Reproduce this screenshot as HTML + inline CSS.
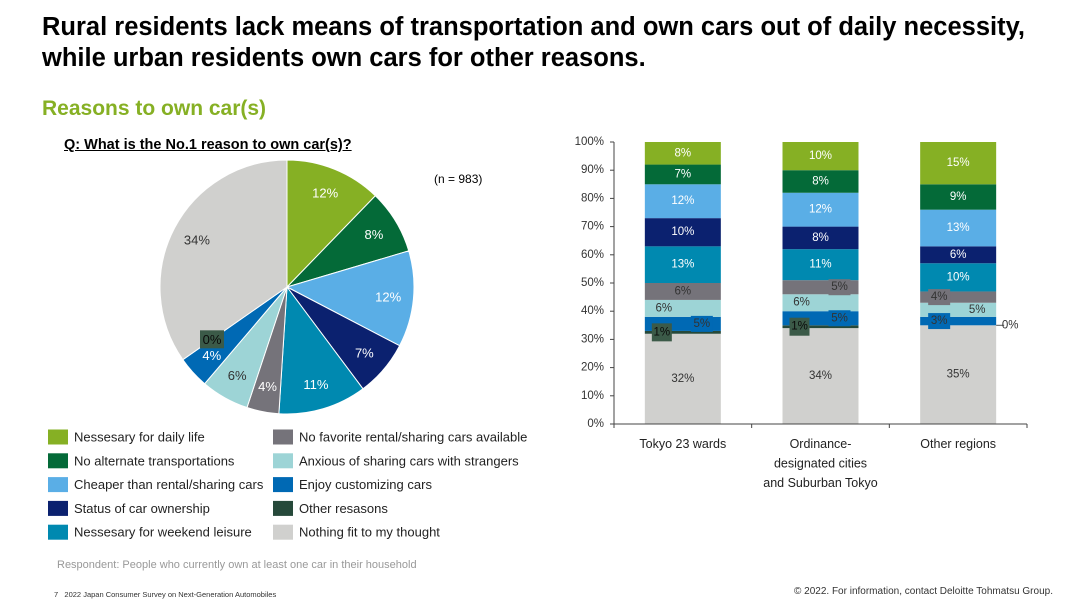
<!DOCTYPE html>
<html><head><meta charset="utf-8">
<style>
body{margin:0;width:1080px;height:608px;background:#fff;font-family:"Liberation Sans",sans-serif;overflow:hidden;position:relative}
.t{position:absolute;white-space:nowrap}
</style></head><body>
<div class="t" style="left:42px;top:12px;font-size:25.5px;font-weight:bold;line-height:31px;color:#000">Rural residents lack means of transportation and own cars out of daily necessity,<br>while urban residents own cars for other reasons.</div>
<div class="t" style="left:42px;top:97px;font-size:21px;font-weight:bold;color:#86b024">Reasons to own car(s)</div>
<div class="t" style="left:64px;top:137px;font-size:14.5px;font-weight:bold;text-decoration:underline">Q: What is the No.1 reason to own car(s)?</div>
<div class="t" style="left:434px;top:172px;font-size:12px">(n = 983)</div>
<div class="t" style="left:57px;top:559px;font-size:11px;color:#999">Respondent: People who currently own at least one car in their household</div>
<div class="t" style="left:54px;top:590px;font-size:7.5px;color:#333">7&nbsp;&nbsp;&nbsp;2022 Japan Consumer Survey on Next-Generation Automobiles</div>
<div class="t" style="left:794px;top:586px;font-size:10px;color:#333">© 2022. For information, contact Deloitte Tohmatsu Group.</div>
<svg id="svg" width="1080" height="608" style="position:absolute;left:0;top:0"></svg>
<script>
const categories=["Nessesary for daily life","No alternate transportations","Cheaper than rental/sharing cars","Status of car ownership","Nessesary for weekend leisure","No favorite rental/sharing cars available","Anxious of sharing cars with strangers","Enjoy customizing cars","Other resasons","Nothing fit to my thought"];
const colors=["#86b024","#046a38","#5aaee6","#0b216f","#0089b0","#75737a","#9dd4d6","#0069b4","#26493a","#d0d0ce"];
const pieValues=[12,8,12,7,11,4,6,4,0,34];
const barGroups=["Tokyo 23 wards","Ordinance-|designated cities|and Suburban Tokyo","Other regions"];
const tokyo=[8,7,12,10,13,6,6,5,1,32];
const ordinance=[10,8,12,8,11,5,6,5,1,34];
const other=[15,9,13,6,10,4,5,3,0,35];
const yTicks=[0,10,20,30,40,50,60,70,80,90,100];
const series=[tokyo,ordinance,other];
const svg=document.getElementById('svg');
const NS='http://www.w3.org/2000/svg';
const boxGreen='#3b5a48';
function el(t,a,p){const e=document.createElementNS(NS,t);for(const k in a)e.setAttribute(k,a[k]);(p||svg).appendChild(e);return e;}
function txt(x,y,s,o){const e=el('text',Object.assign({x:x,y:y,'font-size':12,'font-family':'Liberation Sans, sans-serif','text-anchor':'middle','dominant-baseline':'central'},o||{}));e.textContent=s;return e;}
const later=[];
// pie
const cx=287,cy=287,R=127;const tot=pieValues.reduce((a,b)=>a+b,0);let a0=0;
pieValues.forEach((v,i)=>{const a1=a0+v/tot*2*Math.PI;
 const p=(a)=>[cx+R*Math.sin(a),cy-R*Math.cos(a)];const s=p(a0),e=p(a1);
 if(v>0){const path=el('path',{d:`M${cx},${cy}L${s[0]},${s[1]}A${R},${R} 0 ${a1-a0>Math.PI?1:0} 1 ${e[0]},${e[1]}Z`,fill:colors[i],stroke:'#fff','stroke-width':1});
 
 }
 const m=(a0+a1)/2,r=v===0?R*0.72:R*0.8;
 const lx=cx+r*Math.sin(m),ly=cy-r*Math.cos(m);
 later.push(()=>{
  if(v===0){el('rect',{x:lx-12,y:ly-9,width:24,height:18,fill:boxGreen});}
  const t=txt(lx,ly,v+'%',{'font-size':13,fill:i===8?'#0a0a0a':((i===6||i===9)?'#333':'#fff')});
  
  
 });
 a0=a1;});
// legend
categories.forEach((c,i)=>{const col=i<5?0:1,row=i%5;const x=col?273:48,y=437+row*23.8;
 const r=el('rect',{x:x,y:y-7.5,width:20,height:15,fill:colors[i]});
 
 
 const t=txt(x+26,y,c,{'text-anchor':'start','font-size':13,fill:'#222'});
 
 });
// bar chart
const x0=614,x1=1027,yb=424,yt=142;const Y=v=>yb-(yb-yt)*v/100;const gw=(x1-x0)/3,bw=76;
yTicks.forEach(v=>{el('line',{x1:x0-4,x2:x0,y1:Y(v),y2:Y(v),stroke:'#444'});
 const t=txt(x0-10,Y(v),v+'%',{'text-anchor':'end','font-size':11.5,fill:'#333'});
 
 });
series.forEach((vals,g)=>{const bx=x0+gw*g+gw/2-bw/2;let cum=0;
 for(let i=9;i>=0;i--){const v=vals[i];const ya=Y(cum),yb2=Y(cum+v);
  const r=el('rect',{x:bx,y:yb2,width:bw,height:ya-yb2,fill:colors[i]});
  
  
  const mid=(ya+yb2)/2;let lx=bx+bw/2,fill='#fff';
  if(i>=5){fill='#333';}
  if(i===5||i===6||i===7){lx=(i===6)!==(g===2)?bx+bw*0.25:bx+bw*0.75;if(i===5&&g===0)lx=bx+bw/2;}
  if(i===8){lx=v>0?bx+17:bx+bw+14;fill=v>0?'#0a0a0a':'#333';}
  const LX=lx,M=mid,YA=ya,F=fill;
  later.push(()=>{
   if(i===8){if(v>0){el('rect',{x:bx+7,y:M-9,width:20,height:18,fill:boxGreen});}else{el('line',{x1:bx+bw,x2:bx+bw+8,y1:YA,y2:YA,stroke:'#555'});}}
   if(i===7){el('rect',{x:LX-11,y:M-8,width:22,height:16,fill:colors[7]});}
   if(i===5&&g!==0){el('rect',{x:LX-11,y:M-8,width:22,height:16,fill:colors[5]});}
   const t=txt(LX,M,v+'%',{'font-size':11.5,fill:F});
   
   
  });
  cum+=v;}
 barGroups[g].split('|').forEach((ln,j)=>{const t=txt(x0+gw*g+gw/2,444+j*19.5,ln,{'font-size':12.5,fill:'#222'});
  
  });
});
el('line',{x1:x0,x2:x0,y1:yt,y2:yb,stroke:'#444'});
el('line',{x1:x0,x2:x1,y1:yb,y2:yb,stroke:'#444'});
for(let k=0;k<=3;k++)el('line',{x1:x0+k*gw,x2:x0+k*gw,y1:yb,y2:yb+4,stroke:'#444'});
later.forEach(f=>f());
</script>
</body></html>
